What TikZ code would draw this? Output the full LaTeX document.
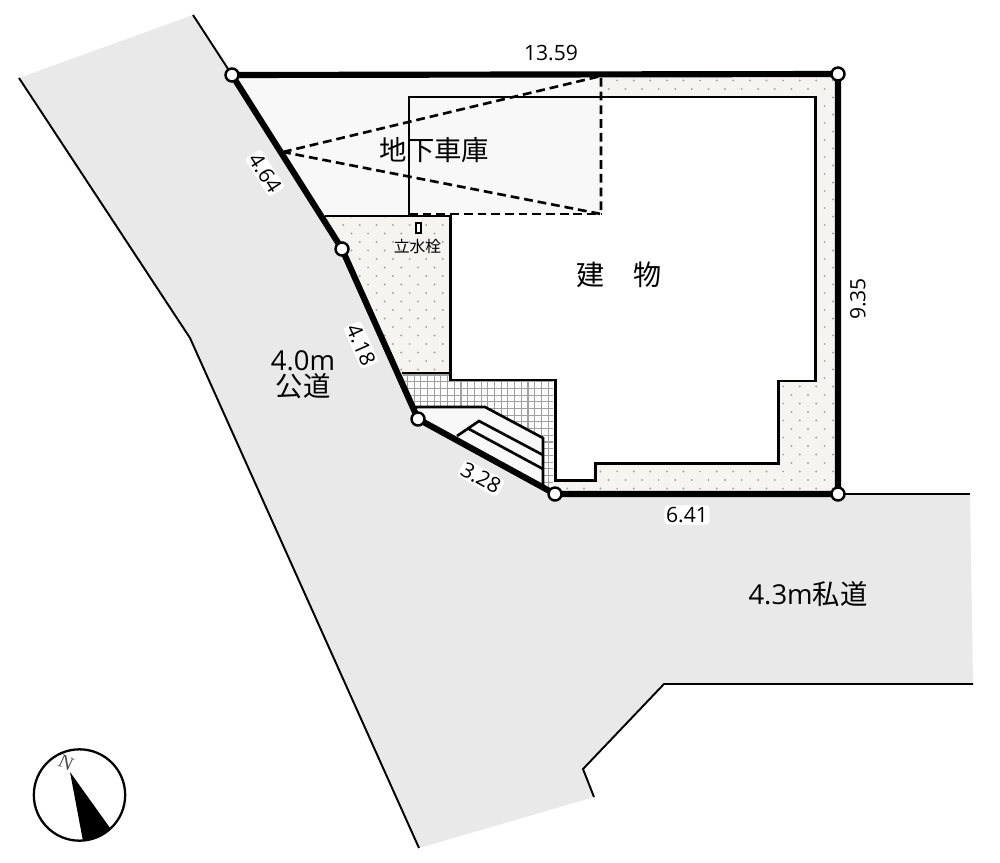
\documentclass[tikz,border=0pt]{standalone}
\usepackage{fontspec}
\setmainfont{Open Sans}
\newfontfamily\cjk{Noto Sans CJK JP}
\definecolor{roadgray}{HTML}{E9E9E9}
\definecolor{lotcol}{HTML}{F5F4F0}
\definecolor{dotcol}{HTML}{A8A8A2}
\definecolor{garcol}{HTML}{F8F8F8}
\definecolor{gridcol}{HTML}{A0A0A0}
\tikzset{
  vertexdot/.style={circle,draw=black,fill=white,line width=1.4pt,minimum size=7.4pt,inner sep=0pt},
  boundary/.style={line width=3.5pt},
  outline/.style={line width=1.1pt},
  planline/.style={line width=1.7pt},
  stairline/.style={line width=1.5pt},
  dashline/.style={line width=1.5pt,dash pattern=on 5pt off 2.8pt},
  dimlabel/.style={fill=white,inner sep=1pt,rounded corners=2pt,font=\fontsize{12}{14}\selectfont},
  biglabel/.style={font=\fontsize{15.6}{17}\selectfont,align=center,inner sep=0pt},
}
\begin{document}
\begin{tikzpicture}[x=0.02cm,y=-0.02cm]
\useasboundingbox (0,0) rectangle (1000,862);
\fill[white] (0,0) rectangle (1000,862);
% road
\fill[roadgray] (19,78) -- (193,15) -- (232,75) -- (342,249) -- (418,419) -- (555,494) -- (970,494) -- (973,684) -- (664,684) -- (583,769) -- (594,797) -- (419,848) -- (190,338) -- cycle;
\draw[outline] (193,15) -- (232,75);
\draw[outline] (838,494) -- (970,494);
\draw[outline] (973,684) -- (664,684) -- (583,769) -- (594,797);
\draw[outline] (419,848) -- (190,338) -- (19,78);
% lot with dots
\fill[lotcol] (232,75) -- (838,74) -- (838,494) -- (555,494) -- (418,419) -- (342,249) -- cycle;
\begin{scope}
\clip (232,75) -- (838,74) -- (838,494) -- (555,494) -- (418,419) -- (342,249) -- cycle;
\foreach \r in {0,...,25}{
  \pgfmathtruncatemacro{\yy}{72+\r*17}
  \foreach \c in {0,...,32}{
    \fill[dotcol] ({310+\c*16.6},\yy) circle (1.1);
    \fill[dotcol] ({318.3+\c*16.6},\yy+8.5) circle (1.1);
  }
}
\end{scope}
% hatched area
\fill[white] (402,373) -- (450,373) -- (450,380) -- (554,380) -- (554,494) -- (418,419) -- cycle;
\begin{scope}
\clip (402,373) -- (450,373) -- (450,380) -- (553,380) -- (553,494) -- (418,419) -- cycle;
\foreach \c in {0,...,24}{
  \draw[gridcol,line width=0.6pt] ({394+\c*6.7},365) -- ({394+\c*6.7},500);
}
\foreach \r in {0,...,20}{
  \draw[gridcol,line width=0.6pt] (395,{375+\r*6.7}) -- (560,{375+\r*6.7});
}
\end{scope}
% building
\fill[white] (409,97) -- (815,97) -- (815,381) -- (778,381) -- (778,463) -- (595,463) -- (595,480) -- (555,480) -- (555,380) -- (450,380) -- (450,216) -- (409,216) -- cycle;
% garage
\fill[garcol] (232,75) -- (601,75) -- (601,214) -- (409,214) -- (409,216) -- (325,216) -- cycle;
% stairs
\fill[garcol] (418,407) -- (485,407) -- (543,438) -- (543,486) -- (418,419) -- cycle;
% plan lines
\draw[planline] (409,216) -- (409,97) -- (815,97) -- (815,381) -- (778,381) -- (778,463) -- (595,463) -- (595,480) -- (555,480) -- (555,380) -- (450,380) -- (450,216) -- (325,216);
\draw[planline] (402,373) -- (450,373);
\draw[stairline] (412,407) -- (485,407) -- (543,438) -- (543,486);
\draw[stairline] (457,436) -- (479,421) -- (543,455);
\draw[stairline] (469,429) -- (543,469);
% dashed
\coordinate (gapex) at (283,152);
\coordinate (gtr) at (601,76);
\coordinate (gbr) at (601,214);
\coordinate (gbl) at (409,214);
\draw[dashline] (gapex) -- (gtr) -- (gbr) -- cycle;
\draw[dashline] (gbl) -- (gbr);
% faucet
\node[draw=black,fill=white,line width=1.2pt,minimum width=3.2pt,minimum height=6pt,inner sep=0pt] (faucet) at (418.5,228) {};
% boundary
\coordinate (pA) at (232,75);
\coordinate (pB) at (838,74);
\coordinate (pC) at (838,494);
\coordinate (pD) at (555,494);
\coordinate (pE) at (418,419);
\coordinate (pF) at (342,249);
\draw[boundary,line join=round] (pA) -- (pB) -- (pC) -- (pD) -- (pE) -- (pF) -- cycle;
\node[vertexdot] (vA) at (pA) {};
\node[vertexdot] (vB) at (pB) {};
\node[vertexdot] (vC) at (pC) {};
\node[vertexdot] (vD) at (pD) {};
\node[vertexdot] (vE) at (pE) {};
\node[vertexdot] (vF) at (pF) {};
% labels
\node[dimlabel] (l1) at (551,53) {13.59};
\node[dimlabel,rotate=90] (l2) at (858,299) {9.35};
\node[dimlabel] (l3) at (687,515) {6.41};
\node[dimlabel,rotate=-29] (l4) at (481,478) {3.28};
\node[dimlabel,rotate=-66] (l5) at (361,345) {4.18};
\node[dimlabel,rotate=-57] (l6) at (265,173) {4.64};
\node[biglabel] (t1) at (303,375) {4.0m\\[-2pt]{\cjk 公道}};
\node[biglabel] (t2) at (808,594) {4.3m{\cjk 私道}};
\node[biglabel,font=\cjk\fontsize{15.6}{17}\selectfont] (t3) at (434.5,150) {地下車庫};
\node[biglabel,font=\cjk\fontsize{16}{18}\selectfont] (t4) at (619,275) {建\hspace{1em}物};
\node[inner sep=0pt,font=\cjk\fontsize{9}{11}\selectfont] (t5) at (417.5,246) {立水栓};
% compass
\node[circle,draw=black,line width=1.3pt,minimum size=52pt,inner sep=0pt] (comp) at (79.5,795) {};
\fill[black] (70,772) -- (83,841) arc[start angle=85.7,delta angle=-38.4,radius=46] -- cycle;
\node[rotate=-25,text=black!70,inner sep=0pt] (north) at (66,763) {\fontspec{Liberation Serif}\fontsize{11}{12}\selectfont N};
\end{tikzpicture}
\end{document}
